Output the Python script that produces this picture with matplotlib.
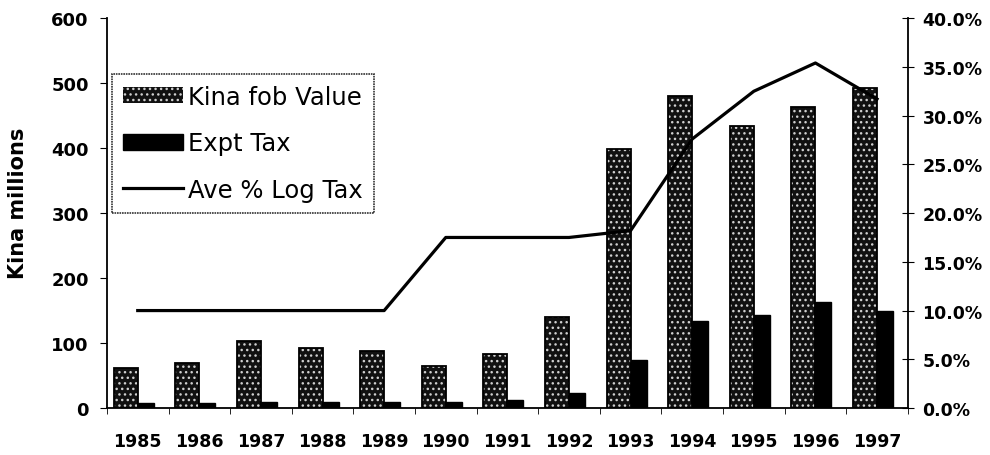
import matplotlib
matplotlib.use("Agg")
import matplotlib.pyplot as plt
import numpy as np
from matplotlib.ticker import FuncFormatter

plt.rcParams['font.family'] = ['DejaVu Sans']
plt.rcParams['hatch.linewidth'] = 1.0

years = ['1985', '1986', '1987', '1988', '1989', '1990', '1991',
         '1992', '1993', '1994', '1995', '1996', '1997']
kina_fob = [62, 70, 103, 93, 88, 65, 83, 140, 398, 480, 434, 463, 492]
expt_tax = [8, 7, 10, 9, 10, 9, 12, 23, 74, 134, 143, 163, 149]
log_tax_pct = [10.0, 10.0, 10.0, 10.0, 10.0, 17.5, 17.5, 17.5, 18.2, 27.6, 32.5, 35.4, 31.7]

fig = plt.figure(figsize=(9.9, 4.56), dpi=100)
ax = fig.add_axes([0.108, 0.103, 0.809, 0.855])
x = np.arange(len(years))

w1, w2 = 0.39, 0.26
b1 = ax.bar(x - w1, kina_fob, width=w1, align='edge', color='#111111',
            edgecolor='#cfcfcf', hatch='...', linewidth=0, label='Kina fob Value')
ax.bar(x - w1, kina_fob, width=w1, align='edge', fill=False, edgecolor='black', linewidth=1.3)
b2 = ax.bar(x, expt_tax, width=w2, align='edge', color='black',
            edgecolor='black', linewidth=1.0, label='Expt Tax')

ax.set_xlim(-0.5, len(years) - 0.5)
ax.set_ylim(0, 600)
ax.set_yticks(range(0, 601, 100))
ax.set_xticks(x)
ax.set_xticklabels(years, fontweight='bold', fontsize=12.5)
ax.set_xticks(np.arange(-0.5, len(years), 1), minor=True)
ax.tick_params(axis='x', which='major', length=0, pad=17)
ax.tick_params(axis='x', which='minor', length=4, direction='out')
ax.tick_params(axis='y', length=5, direction='out', labelsize=13, pad=8)
for t in ax.get_yticklabels():
    t.set_fontweight('bold')
ax.set_ylabel('Kina millions', fontweight='bold', fontsize=15)
ax.yaxis.set_label_coords(-0.099, 0.528)
ax.spines['top'].set_visible(False)
ax.spines['right'].set_visible(False)
ax.spines['left'].set_linewidth(1.3)
ax.spines['bottom'].set_linewidth(1.3)

ax2 = ax.twinx()
line, = ax2.plot(x, log_tax_pct, color='black', linewidth=2.3, label='Ave % Log Tax')
ax2.set_ylim(0, 40)
ax2.set_yticks(np.arange(0, 40.1, 5))
ax2.yaxis.set_major_formatter(FuncFormatter(lambda v, p: f'{v:.1f}%'))
ax2.tick_params(axis='y', length=9, direction='inout', labelsize=12.5, pad=6)
for t in ax2.get_yticklabels():
    t.set_fontweight('bold')
ax2.spines['top'].set_visible(False)
ax2.spines['left'].set_visible(False)
ax2.spines['bottom'].set_visible(False)
ax2.spines['right'].set_linewidth(1.3)

leg = ax2.legend([b1, b2, line], ['Kina fob Value', 'Expt Tax', 'Ave % Log Tax'],
                 loc='upper left', bbox_to_anchor=(0.006, 0.857), fontsize=17.5,
                 frameon=True, fancybox=False, edgecolor='black', handlelength=2.5,
                 handleheight=0.65, handletextpad=0.2, borderpad=0.45,
                 labelspacing=0.92, borderaxespad=0)
leg.get_frame().set_linewidth(1.2)
leg.get_frame().set_linestyle((0, (1, 0.5)))

fig.savefig('out.png', dpi=100)
